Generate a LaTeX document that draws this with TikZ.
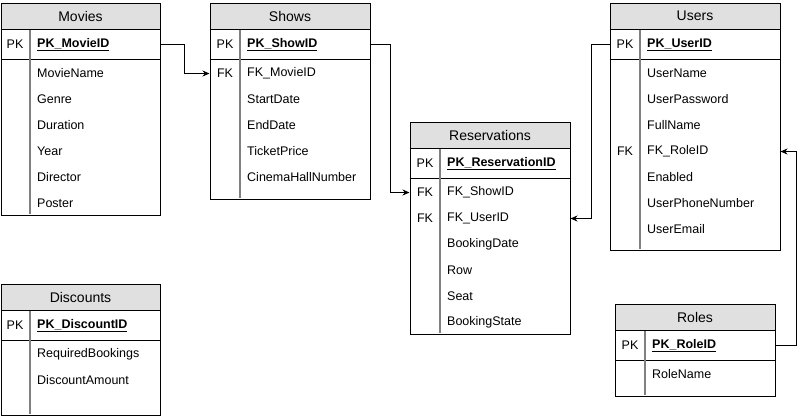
\documentclass[tikz,border=0pt]{standalone}
\usepackage{fontspec}
\setmainfont{Liberation Sans}
\usepackage{xcolor}
\usetikzlibrary{positioning,arrows.meta}
\definecolor{headgray}{HTML}{E0E0E0}

\begin{document}
\begin{tikzpicture}[x=1pt, y=-1pt,
    title/.style={draw, fill=headgray, minimum height=26pt, inner sep=0pt, line width=1pt, font=\fontsize{14}{16}\selectfont},
    tbl/.style={draw, line width=1pt},
    divider/.style={draw=gray, line width=2pt},
    key/.style={inner sep=0pt, font=\fontsize{12.5}{14}\selectfont},
    field/.style={anchor=west, inner sep=0pt, font=\fontsize{12.5}{14}\selectfont},
    pkfield/.style={field, font=\fontsize{12.5}{14}\selectfont\bfseries},
    link/.style={-{Stealth[length=7pt, width=6pt]}, line width=1pt}
]
\useasboundingbox (0,0) rectangle (799,416);

% Movies
\node[title, minimum width=159pt] (movies) at (80.5,16) {Movies};
\draw[tbl] (1,29) rectangle (160,215);
\draw[tbl] (1,59) -- (160,59);
\draw[divider] (30,30) -- (30,214);
\node[key] (movies-k) at (15,44.5) {PK};
\node[pkfield] (movies-pk) at (37,44.5) {\underline{PK\_MovieID}};
\foreach \f [count=\i] in {MovieName,Genre,Duration,Year,Director,Poster}
  \node[field] (movies-\i) at (37,47.5+26*\i) {\f};

% Shows
\node[title, minimum width=160pt] (shows) at (290,16) {Shows};
\draw[tbl] (210,29) rectangle (370,199);
\draw[tbl] (210,59) -- (370,59);
\draw[divider] (240,30) -- (240,198);
\node[key] (shows-k) at (225,44.5) {PK};
\node[pkfield] (shows-pk) at (247,44.5) {\underline{PK\_ShowID}};
\node[key] (shows-fk) at (225,73.5) {FK};
\foreach \f [count=\i] in {FK\_MovieID,StartDate,EndDate,TicketPrice,CinemaHallNumber}
  \node[field] (shows-\i) at (247,47.5+26*\i) {\f};

% Reservations
\node[title, minimum width=160pt] (res) at (490,135) {Reservations};
\draw[tbl] (410,148) rectangle (570,334);
\draw[tbl] (410,178) -- (570,178);
\draw[divider] (440,149) -- (440,333);
\node[key] (res-k) at (425,163.5) {PK};
\node[pkfield] (res-pk) at (447,163.5) {\underline{PK\_ReservationID}};
\node[key] (res-fk1) at (425,192.5) {FK};
\node[key] (res-fk2) at (425,218.5) {FK};
\foreach \f [count=\i] in {FK\_ShowID,FK\_UserID,BookingDate,Row,Seat,BookingState}
  \node[field] (res-\i) at (447,166.5+26*\i) {\f};

% Users
\node[title, minimum width=170pt] (users) at (695,16) {Users};
\draw[tbl] (610,29) rectangle (780,250);
\draw[tbl] (610,59) -- (780,59);
\draw[divider] (640,30) -- (640,249);
\node[key] (users-k) at (625,44.5) {PK};
\node[pkfield] (users-pk) at (647,44.5) {\underline{PK\_UserID}};
\node[key] (users-fk) at (625,151.5) {FK};
\foreach \f [count=\i] in {UserName,UserPassword,FullName,FK\_RoleID,Enabled,UserPhoneNumber,UserEmail}
  \node[field] (users-\i) at (647,47.5+26*\i) {\f};

% Roles
\node[title, minimum width=160pt] (roles) at (695,317) {Roles};
\draw[tbl] (615,330) rectangle (775,396);
\draw[tbl] (615,360) -- (775,360);
\draw[divider] (645,331) -- (645,395);
\node[key] (roles-k) at (630,345.5) {PK};
\node[pkfield] (roles-pk) at (652,345.5) {\underline{PK\_RoleID}};
\node[field] (roles-1) at (652,374.5) {RoleName};

% Discounts
\node[title, minimum width=159pt] (disc) at (80.5,297) {Discounts};
\draw[tbl] (1,310) rectangle (160,415);
\draw[tbl] (1,340) -- (160,340);
\draw[divider] (30,311) -- (30,414);
\node[key] (disc-k) at (15,325.5) {PK};
\node[pkfield] (disc-pk) at (37,325.5) {\underline{PK\_DiscountID}};
\node[field] (disc-1) at (37,354.5) {RequiredBookings};
\node[field] (disc-2) at (37,380.5) {DiscountAmount};

% Relations
\draw[link] (movies-pk -| movies.east) -- ++(24,0) |- (shows-1 -| shows.west);
\draw[link] (shows-pk -| shows.east) -- ++(20,0) |- (res-1 -| res.west);
\draw[link] (users-pk -| users.west) -- ++(-18,0) |- (res-2 -| res.east);
\draw[link] (roles-pk -| roles.east) -- ++(21,0) |- (users-4 -| users.east);
\end{tikzpicture}
\end{document}
